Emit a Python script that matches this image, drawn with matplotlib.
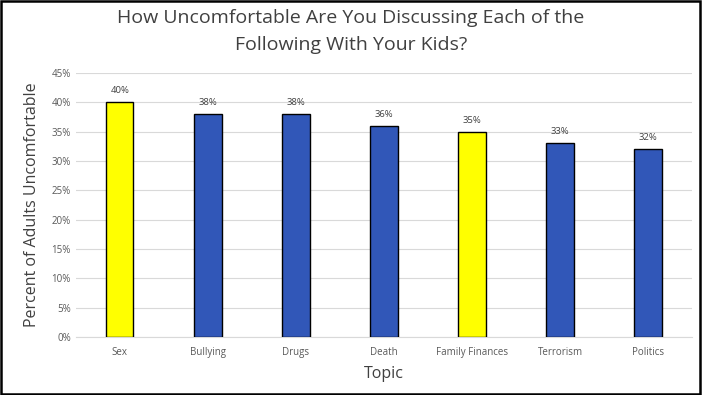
import matplotlib.pyplot as plt
from matplotlib.patches import Rectangle

topics = ["Sex", "Bullying", "Drugs", "Death", "Family Finances", "Terrorism", "Politics"]
percent = [40, 38, 38, 36, 35, 33, 32]
highlight = ["Sex", "Family Finances"]

plt.rcParams["font.family"] = ["Open Sans", "DejaVu Sans"]

fig = plt.figure(figsize=(7.02, 3.95), dpi=100)
ax = fig.add_axes([0.108, 0.147, 0.878, 0.668])

colors = ["#FFFF00" if t in highlight else "#3157B8" for t in topics]
x = range(len(topics))
bars = ax.bar(x, percent, width=0.31, color=colors, edgecolor="black", linewidth=1, zorder=3)

for xi, v in zip(x, percent):
    ax.text(xi, v + 1.2, f"{v}%", ha="center", va="bottom", fontsize=6.8, color="#404040")

ax.set_xlim(-0.5, len(topics) - 0.5)
ax.set_ylim(0, 45)
ax.set_yticks(range(0, 46, 5))
ax.set_yticklabels([f"{v}%" for v in range(0, 46, 5)])
ax.set_xticks(list(x))
ax.set_xticklabels(topics)
ax.tick_params(axis="both", length=0, labelsize=7, labelcolor="#595959")
ax.tick_params(axis="x", pad=7)
ax.grid(axis="y", color="#D9D9D9", linewidth=0.8, zorder=0)
for s in ax.spines.values():
    s.set_visible(False)
ax.spines["bottom"].set_visible(True)
ax.spines["bottom"].set_color("#D9D9D9")

ax.set_ylabel("Percent of Adults Uncomfortable", fontsize=11.5, color="#404040", labelpad=8)
ax.set_xlabel("Topic", fontsize=11.5, color="#404040", labelpad=6)
fig.text(0.5, 1 - 18 / 395, "How Uncomfortable Are You Discussing Each of the",
         ha="center", va="center", fontsize=14, color="#404040")
fig.text(0.5, 1 - 45 / 395, "Following With Your Kids?",
         ha="center", va="center", fontsize=14, color="#404040")

fig.patches.append(Rectangle((0.002, 0.003), 0.995, 0.994, transform=fig.transFigure,
                             fill=False, edgecolor="black", linewidth=1.8))

fig.savefig("out.png", dpi=100)
